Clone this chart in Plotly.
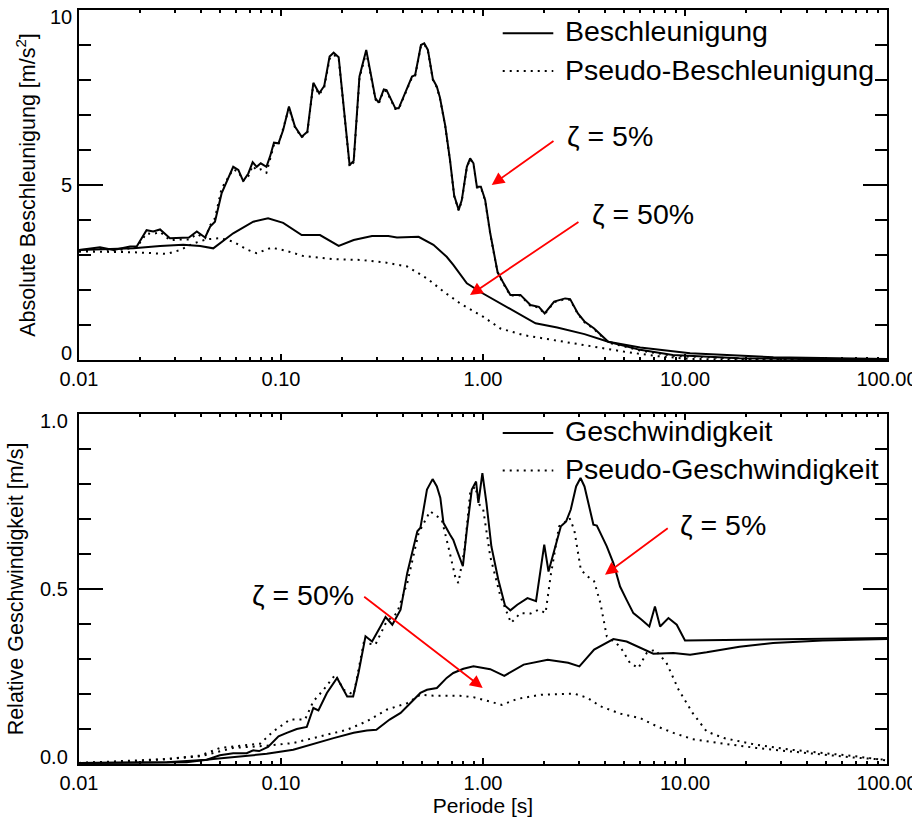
import math
import plotly.graph_objects as go

# ---------------- data ----------------
# Top panel: acceleration spectra [m/s^2] vs period [s]
acc5_T = [0.01, 0.0127, 0.0148, 0.0179, 0.0193, 0.0216, 0.0233, 0.0252, 0.0282, 0.0316, 0.035,
          0.0383, 0.0421, 0.0446, 0.0471, 0.0508, 0.0538, 0.058, 0.0615, 0.065, 0.0689, 0.0724,
          0.0758, 0.0794, 0.0847, 0.0882, 0.0923, 0.0972, 0.1025, 0.1095, 0.1172, 0.1266, 0.135,
          0.1446, 0.1545, 0.1637, 0.174, 0.1822, 0.193, 0.2045, 0.2186, 0.229, 0.2446, 0.2642,
          0.2768, 0.2932, 0.3046, 0.3227, 0.333, 0.3682, 0.3826, 0.4126, 0.4452, 0.4614, 0.493,
          0.5118, 0.5336, 0.565, 0.591, 0.612, 0.65, 0.687, 0.72, 0.758, 0.7853, 0.8317, 0.8637,
          0.897, 0.9325, 0.976, 1.025, 1.086, 1.18, 1.265, 1.366, 1.532, 1.718, 1.89, 2.02, 2.25,
          2.55, 2.7, 2.95, 3.18, 3.55, 4.17, 6.0, 8.7, 18.6, 40.0, 100.0]
acc5_abs = [3.14, 3.22, 3.14, 3.24, 3.24, 3.71, 3.67, 3.73, 3.48, 3.50, 3.50,
            3.67, 3.50, 3.81, 3.95, 4.76, 5.10, 5.52, 5.43, 5.11, 5.33, 5.65,
            5.52, 5.62, 5.52, 5.81, 6.21, 6.19, 6.57, 7.24, 6.67, 6.38, 6.52,
            7.92, 7.62, 7.83, 8.67, 8.78, 8.65, 7.14, 5.57, 5.69, 8.10, 8.86,
            8.19, 7.48, 7.35, 7.73, 7.71, 7.19, 7.19, 7.62, 8.10, 8.14, 9.00,
            9.05, 8.86, 8.02, 7.81, 7.50, 6.70, 5.70, 4.70, 4.29, 4.57, 5.52, 5.76,
            5.62, 4.95, 4.95, 4.57, 3.62, 2.52, 2.19, 1.86, 1.86, 1.57, 1.52, 1.33, 1.67,
            1.76, 1.74, 1.33, 1.10, 0.90, 0.52, 0.29, 0.14, 0.05, 0.03, 0.02]
acc5_pseudo = [3.10, 3.18, 3.12, 3.20, 3.22, 3.62, 3.60, 3.66, 3.42, 3.44, 3.44,
               3.60, 3.48, 3.85, 4.05, 4.90, 5.15, 5.45, 5.38, 5.12, 5.25, 5.55,
               5.42, 5.45, 5.35, 5.70, 6.15, 6.15, 6.62, 7.20, 6.65, 6.36, 6.50,
               7.88, 7.58, 7.80, 8.60, 8.72, 8.62, 7.10, 5.52, 5.65, 8.05, 8.80,
               8.15, 7.45, 7.32, 7.70, 7.68, 7.17, 7.17, 7.60, 8.07, 8.12, 8.97,
               9.02, 8.83, 8.00, 7.79, 7.48, 6.68, 5.68, 4.68, 4.27, 4.55, 5.50, 5.74,
               5.60, 4.93, 4.93, 4.55, 3.60, 2.50, 2.17, 1.84, 1.84, 1.55, 1.50, 1.31, 1.65,
               1.74, 1.72, 1.31, 1.08, 0.88, 0.50, 0.27, 0.12, 0.04, 0.02, 0.01]

acc50_T = [0.01, 0.0186, 0.0252, 0.0328, 0.0398, 0.0462, 0.058, 0.0729, 0.0863, 0.1025, 0.1266,
           0.156, 0.193, 0.229, 0.2824, 0.3398, 0.375, 0.4799, 0.5683, 0.661, 0.7128, 0.7695,
           0.8317, 1.0, 1.31, 1.82, 2.33, 3.18, 4.17, 6.0, 10.6, 27.4, 100.0]
acc50_abs = [3.14, 3.19, 3.26, 3.29, 3.26, 3.19, 3.62, 3.95, 4.05, 3.92, 3.57,
             3.57, 3.26, 3.43, 3.54, 3.54, 3.50, 3.52, 3.29, 2.95, 2.72, 2.45,
             2.19, 1.90, 1.52, 1.05, 0.93, 0.74, 0.52, 0.36, 0.19, 0.08, 0.03]

acc50p_T = [0.01, 0.0186, 0.0272, 0.0316, 0.0368, 0.0429, 0.05, 0.058, 0.0676, 0.0758, 0.0898,
            0.106, 0.129, 0.1822, 0.2465, 0.333, 0.4217, 0.528, 0.64, 0.7695, 1.0, 1.22, 1.59,
            2.33, 3.43, 4.97, 7.3, 10.6, 20.0, 100.0]
acc50_pseudo = [3.10, 3.08, 3.03, 3.14, 3.33, 3.45, 3.48, 3.38, 3.16, 3.05, 3.21,
                3.12, 2.97, 2.88, 2.86, 2.78, 2.67, 2.33, 1.95, 1.62, 1.24, 0.90, 0.71,
                0.55, 0.38, 0.24, 0.11, 0.03, 0.01, 0.0]

# Bottom panel: relative velocity spectra [m/s] vs period [s]
vel5_T = [0.01, 0.0272, 0.0429, 0.0498, 0.058, 0.0676, 0.0729, 0.078, 0.0863, 0.0972, 0.1068,
          0.1197, 0.1342, 0.1446, 0.1532, 0.1687, 0.1895, 0.2126, 0.2276, 0.2419, 0.262, 0.2824,
          0.3108, 0.3293, 0.3557, 0.3908, 0.4217, 0.4731, 0.49, 0.528, 0.563, 0.591, 0.615,
          0.637, 0.687, 0.7128, 0.742, 0.795, 0.832, 0.88, 0.924, 0.949, 0.993, 1.04, 1.10,
          1.19, 1.286, 1.366, 1.478, 1.66, 1.83, 1.94, 2.01, 2.11, 2.25, 2.43, 2.58, 2.72,
          2.89, 3.04, 3.18, 3.52, 3.66, 4.10, 4.42, 4.77, 5.14, 5.55, 6.1, 6.66, 7.1, 7.53,
          8.28, 9.1, 10.0, 100.0]
vel5_rel = [0.003, 0.005, 0.012, 0.025, 0.031, 0.031, 0.039, 0.037, 0.049, 0.079, 0.089,
            0.100, 0.106, 0.160, 0.153, 0.203, 0.246, 0.193, 0.193, 0.260, 0.365, 0.350,
            0.393, 0.420, 0.398, 0.441, 0.546, 0.665, 0.675, 0.784, 0.814, 0.793, 0.760,
            0.689, 0.655, 0.640, 0.612, 0.565, 0.669, 0.784, 0.807, 0.746, 0.831, 0.746, 0.622,
            0.527, 0.452, 0.439, 0.455, 0.474, 0.465, 0.574, 0.627, 0.550, 0.612, 0.679, 0.693, 0.727,
            0.793, 0.817, 0.793, 0.684, 0.681, 0.622, 0.574, 0.507, 0.469, 0.431, 0.412, 0.393, 0.450, 0.393,
            0.417, 0.398, 0.353, 0.360]

vel5p_T = [0.01, 0.0186, 0.027, 0.0398, 0.05, 0.0627, 0.0788, 0.0915, 0.1108, 0.1315, 0.1446,
           0.1624, 0.1857, 0.2045, 0.229, 0.2567, 0.2932, 0.333, 0.3753, 0.4217, 0.48, 0.547,
           0.625, 0.673, 0.728, 0.755, 0.81, 0.864, 0.915, 0.96, 1.0, 1.086, 1.22, 1.377, 1.53,
           1.72, 1.89, 2.04, 2.16, 2.38, 2.52, 2.68, 2.83, 3.05, 3.29, 3.55, 3.81, 4.10, 4.77,
           5.34, 5.87, 6.46, 7.1, 8.1, 9.3, 10.9, 12.8, 15.6, 22.5, 33.2, 48.0, 70.0, 100.0]
vel5_pseudo = [0.003, 0.010, 0.014, 0.024, 0.046, 0.052, 0.058, 0.093, 0.127, 0.127, 0.179,
               0.212, 0.255, 0.212, 0.198, 0.346, 0.341, 0.407, 0.431, 0.517, 0.660, 0.722,
               0.698, 0.622, 0.536, 0.517, 0.612, 0.774, 0.793, 0.741, 0.731, 0.593, 0.479, 0.403, 0.431,
               0.430, 0.441, 0.431, 0.536, 0.679, 0.689, 0.703, 0.669, 0.555, 0.536, 0.522, 0.460, 0.365, 0.336,
               0.289, 0.274, 0.317, 0.327, 0.289, 0.212, 0.146, 0.093, 0.074, 0.055, 0.041, 0.031, 0.022, 0.010]

vel50_T = [0.01, 0.0341, 0.0462, 0.0627, 0.085, 0.115, 0.1446, 0.182, 0.229, 0.266, 0.2965,
           0.345, 0.391, 0.438, 0.49, 0.528, 0.591, 0.661, 0.7128, 0.8, 0.897, 1.086, 1.275,
           1.59, 2.09, 2.64, 3.0, 3.55, 4.42, 5.14, 6.97, 8.76, 10.6, 12.8, 18.6, 27.3, 48.0, 100.0]
vel50_rel = [0.003, 0.005, 0.014, 0.022, 0.029, 0.041, 0.058, 0.074, 0.089, 0.096, 0.098,
             0.127, 0.146, 0.174, 0.203, 0.212, 0.217, 0.246, 0.260, 0.272, 0.279, 0.271, 0.252,
             0.284, 0.298, 0.289, 0.279, 0.327, 0.357, 0.350, 0.315, 0.317, 0.312, 0.319, 0.335, 0.346, 0.353, 0.357]

vel50p_T = [0.01, 0.0186, 0.027, 0.0398, 0.058, 0.085, 0.115, 0.156, 0.2126, 0.266, 0.333,
            0.4217, 0.49, 0.568, 0.7695, 0.897, 1.086, 1.24, 1.478, 1.94, 2.83, 3.29, 3.81,
            4.77, 6.0, 7.3, 8.76, 10.9, 15.6, 22.5, 33.0, 48.0, 70.0, 100.0]
vel50_pseudo = [0.003, 0.007, 0.014, 0.022, 0.046, 0.052, 0.060, 0.079, 0.098, 0.122, 0.155,
                0.174, 0.198, 0.195, 0.195, 0.191, 0.179, 0.169, 0.186, 0.198, 0.201, 0.189, 0.165,
                0.144, 0.131, 0.107, 0.089, 0.071, 0.058, 0.046, 0.036, 0.027, 0.018, 0.012]

# tick labels
x_tickvals = [0.01, 0.1, 1, 10, 100]
x_ticktext = ["0.01", "0.10", "1.00", "10.00", "100.00"]
y1_tickvals = [0, 5, 10]
y1_ticktext = ["0", "5", "10"]
y2_tickvals = [0, 0.5, 1.0]
y2_ticktext = ["0.0", "0.5", "1.0"]

legend_top = ["Beschleunigung", "Pseudo-Beschleunigung"]
legend_bot = ["Geschwindigkeit", "Pseudo-Geschwindigkeit"]

# ---------------- figure ----------------
FONT = "Liberation Sans, Arial, Helvetica, sans-serif"
SOLID = dict(color="black", width=2)
DOTTED = dict(color="black", width=2, dash="2px,5px")

fig = go.Figure()
fig.add_trace(go.Scatter(x=acc5_T, y=acc5_abs, mode="lines", line=SOLID, xaxis="x", yaxis="y"))
fig.add_trace(go.Scatter(x=acc5_T, y=acc5_pseudo, mode="lines", line=DOTTED, xaxis="x", yaxis="y"))
fig.add_trace(go.Scatter(x=acc50_T, y=acc50_abs, mode="lines", line=SOLID, xaxis="x", yaxis="y"))
fig.add_trace(go.Scatter(x=acc50p_T, y=acc50_pseudo, mode="lines", line=DOTTED, xaxis="x", yaxis="y"))

fig.add_trace(go.Scatter(x=vel5_T, y=vel5_rel, mode="lines", line=SOLID, xaxis="x2", yaxis="y2"))
fig.add_trace(go.Scatter(x=vel5p_T, y=vel5_pseudo, mode="lines", line=DOTTED, xaxis="x2", yaxis="y2"))
fig.add_trace(go.Scatter(x=vel50_T, y=vel50_rel, mode="lines", line=SOLID, xaxis="x2", yaxis="y2"))
fig.add_trace(go.Scatter(x=vel50p_T, y=vel50_pseudo, mode="lines", line=DOTTED, xaxis="x2", yaxis="y2"))

def xaxis_style(anchor, title=None):
    d = dict(type="log", range=[-2, 2], anchor=anchor,
             tickmode="array", tickvals=x_tickvals, ticktext=x_ticktext,
             ticks="inside", ticklen=6, tickwidth=2, tickcolor="black",
             showline=True, linewidth=2, linecolor="black", mirror="ticks",
             showgrid=False, zeroline=False, automargin=False,
             ticklabeloverflow="allow",
             tickfont=dict(family=FONT, size=20, color="black"),
             minor=dict(ticks="inside", ticklen=3, tickwidth=1.5, tickcolor="black",
                        dtick="D1", showgrid=False))
    if title:
        d["title"] = dict(text=title, font=dict(family=FONT, size=21, color="black"), standoff=0)
    return d

def yaxis_style(anchor, domain, rng, tv, mdt, title, standoff):
    return dict(domain=domain, range=rng, anchor=anchor,
                tickmode="array", tickvals=tv, showticklabels=False,
                ticks="inside", ticklen=24, tickwidth=2, tickcolor="black",
                showline=True, linewidth=2, linecolor="black", mirror="ticks",
                showgrid=False, zeroline=False, automargin=False,
                minor=dict(ticks="inside", ticklen=12, tickwidth=1.5, tickcolor="black",
                           dtick=mdt, showgrid=False),
                title=dict(text=title, font=dict(family=FONT, size=21.5, color="black"),
                           standoff=standoff))

top_dom = [404 / 754, 1.0]
bot_dom = [0.0, 350 / 754]

fig.update_layout(
    width=912, height=818,
    margin=dict(l=79, r=25, t=10, b=54),
    paper_bgcolor="white", plot_bgcolor="white",
    showlegend=False,
    font=dict(family=FONT, color="black"),
    xaxis=xaxis_style("y"),
    yaxis=yaxis_style("x", top_dom, [0, 10], y1_tickvals, 1,
                      "Absolute Beschleunigung [m/s<sup>2</sup>]", 35),
    xaxis2=xaxis_style("y2", "Periode [s]"),
    yaxis2=yaxis_style("x2", bot_dom, [0, 1], y2_tickvals, 0.1,
                       "Relative Geschwindigkeit [m/s]", 47),
)

shapes = []
annots = []

# y tick labels (end labels nudged inward, as in the original)
TFONT = dict(family=FONT, size=20, color="black")
for yr, xr, vals, texts, xs in [("y", "x domain", y1_tickvals, y1_ticktext, -5),
                                ("y2", "x2 domain", y2_tickvals, y2_ticktext, -9)]:
    for i, (v, t) in enumerate(zip(vals, texts)):
        ys = 7 if i == 0 else (-7 if i == len(vals) - 1 else 0)
        annots.append(dict(xref=xr, yref=yr, x=0, y=v, text=t, showarrow=False,
                           xanchor="right", yanchor="middle", xshift=xs, yshift=ys, font=TFONT))

# legend drawn inside each panel
LEG_FONT = dict(family=FONT, size=28.5, color="black")
for xr, yr, ys, yt, labels in [("x domain", "y domain", (0.9334, 0.8257), (0.939, 0.830), legend_top),
                               ("x2 domain", "y2 domain", (0.9457, 0.8389), (0.950, 0.844), legend_bot)]:
    for i, dash in enumerate(["solid", "2px,5px"]):
        shapes.append(dict(type="line", xref=xr, yref=yr, x0=0.5244, x1=0.587, y0=ys[i], y1=ys[i],
                           line=dict(color="black", width=2, dash=dash)))
        annots.append(dict(xref=xr, yref=yr, x=0.599, y=yt[i], text=labels[i], showarrow=False,
                           xanchor="left", yanchor="middle", font=LEG_FONT))

# damping labels and arrows
ZFONT = dict(family=FONT, size=28.5, color="black")
annots += [
    dict(xref="x", yref="y", x=math.log10(2.55), y=6.39, text="ζ = 5%", showarrow=False,
         xanchor="left", yanchor="middle", font=ZFONT),
    dict(xref="x", yref="y", x=math.log10(3.39), y=4.16, text="ζ = 50%", showarrow=False,
         xanchor="left", yanchor="middle", font=ZFONT),
    dict(xref="x2", yref="y2", x=math.log10(9.26), y=0.682, text="ζ = 5%", showarrow=False,
         xanchor="left", yanchor="middle", font=ZFONT),
    dict(xref="x2", yref="y2", x=math.log10(0.0702), y=0.484, text="ζ = 50%", showarrow=False,
         xanchor="left", yanchor="middle", font=ZFONT),
]
ARW = dict(showarrow=True, text="", arrowhead=2, arrowsize=1.4, arrowwidth=1.8, arrowcolor="red",
           standoff=0, startstandoff=0)
annots += [
    dict(xref="x", yref="y", axref="x", ayref="y", x=0.0431, y=5.0, ax=0.3564, ay=6.286, **ARW),
    dict(xref="x", yref="y", axref="x", ayref="y", x=-0.0644, y=1.857, ax=0.480, ay=3.971, **ARW),
    dict(xref="x2", yref="y2", axref="x2", ayref="y2", x=0.604, y=0.541, ax=0.922, ay=0.677, **ARW),
    dict(xref="x2", yref="y2", axref="x2", ayref="y2", x=-0.0015, y=0.217, ax=-0.5955, ay=0.481, **ARW),
]

fig.update_layout(shapes=shapes, annotations=annots)
fig.write_html("out.html", config={"displayModeBar": False},
               post_script="document.body.style.margin='0';document.body.style.overflow='hidden';")
